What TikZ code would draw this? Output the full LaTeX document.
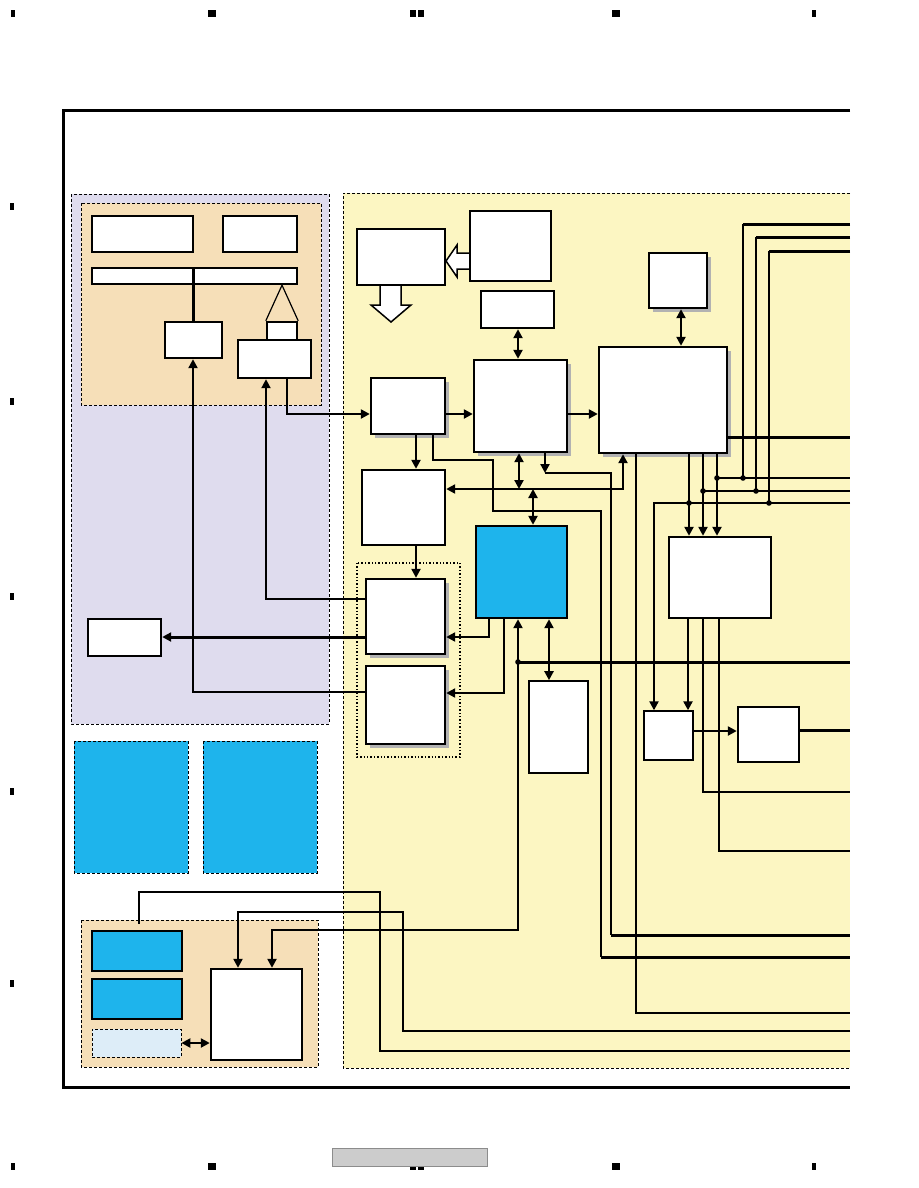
\documentclass[tikz,border=0pt]{standalone}
\usetikzlibrary{arrows.meta, shadows}
\definecolor{PanelLav}{HTML}{DFDCEE}
\definecolor{PanelTan}{HTML}{F6DFB8}
\definecolor{PanelYel}{HTML}{FCF6C2}
\definecolor{ChipCyan}{HTML}{1EB4EC}
\definecolor{PaleBlue}{HTML}{DDEDF8}
\definecolor{FootGray}{HTML}{CCCCCC}
\begin{document}
\begin{tikzpicture}[x=1pt, y=-1pt,
    box/.style={draw, fill=white, line width=2.4pt, inner sep=0pt},
    shbox/.style={box, drop shadow={shadow xshift=4pt, shadow yshift=-4pt, fill=black!30, opacity=1}},
    panel/.style={draw, line width=0.8pt, dash pattern=on 3pt off 2pt},
    arr/.style={-{Triangle[length=9pt,width=9pt]}, line width=2.6pt},
    dbl/.style={{Triangle[length=9pt,width=9pt]}-{Triangle[length=9pt,width=9pt]}, line width=2.6pt},
    bus/.style={line width=3pt},
    wire/.style={line width=1.4pt},
    regmark/.style={fill=black}
  ]
  \fill[white] (0,0) rectangle (918,1188);
  \useasboundingbox (0,0) rectangle (918,1188);
  % registration marks
  \foreach \x/\w in {11/4, 208/8, 612/8, 812/4} {
    \fill[regmark] (\x,10) rectangle ++(\w,7);
    \fill[regmark] (\x,1163) rectangle ++(\w,7);
  }
  \foreach \y in {10,1163} {
    \fill[regmark] (410,\y) rectangle ++(6,7);
    \fill[regmark] (418,\y) rectangle ++(6,7);
  }
  \foreach \y in {203,398,593,788,980}
    \fill[regmark] (10,\y) rectangle ++(4,7);
  \draw[fill=FootGray, draw=black!45, line width=0.8pt] (332,1148) rectangle (487,1166);
  % frame
  \draw[line width=3pt] (850,111) -- (63,111) -- (63,1087) -- (850,1087);
  % panels
  \draw[panel, fill=PanelLav] (71,194) rectangle (329,724);
  \draw[panel, fill=PanelTan] (81,203) rectangle (321,405);
  \draw[panel, fill=ChipCyan] (74,741) rectangle (188,873);
  \draw[panel, fill=ChipCyan] (203,741) rectangle (317,873);
  \draw[panel, fill=PanelTan] (81,920) rectangle (318,1067);
  \fill[PanelYel] (343,193) rectangle (850,1068);
  \draw[panel] (850,193) -- (343,193) -- (343,1068) -- (850,1068);
  \draw[dotted, line width=1.4pt] (357,563) rectangle (460,757);
  \coordinate (edge) at (850,0);

  % hollow arrows
  \draw[fill=white, line width=1.5pt] (470,253) -- (457,253) -- (457,245) -- (446,261) -- (457,277) -- (457,269) -- (470,269) -- cycle;
  \draw[fill=white, line width=1.5pt] (380,285) -- (380,305) -- (371,305) -- (391,322) -- (411,305) -- (401,305) -- (401,285) -- cycle;

  % left unit
  \node[box, minimum width=101, minimum height=36] (memA) at (142.5,234) {};
  \node[box, minimum width=74, minimum height=36] (memB) at (260,234) {};
  \node[box, minimum width=205, minimum height=16] (conn) at (194.5,276) {};
  \node[box, minimum width=57, minimum height=36] (drv) at (193.5,340) {};
  \node[box, minimum width=30, minimum height=18] (tab) at (282,331) {};
  \node[box, minimum width=73, minimum height=38] (ctl) at (274.5,359) {};
  \node[box, minimum width=73, minimum height=37] (lamp) at (124.5,637.5) {};
  \node[box, fill=ChipCyan, minimum width=90, minimum height=40] (romA) at (137,951) {};
  \node[box, fill=ChipCyan, minimum width=90, minimum height=40] (romB) at (137,999) {};
  \node[draw, fill=PaleBlue, line width=0.8pt, dash pattern=on 3pt off 2pt, minimum width=89, minimum height=28] (ext) at (136.5,1043) {};
  \node[box, minimum width=91, minimum height=91] (sub) at (256.5,1014.5) {};

  % main board
  \node[box, minimum width=88, minimum height=56] (disp) at (401,257) {};
  \node[box, minimum width=81, minimum height=70] (gen) at (510.5,246) {};
  \node[box, minimum width=73, minimum height=37] (sdram) at (517.5,309.5) {};
  \node[shbox, minimum width=93, minimum height=92] (dsp) at (520.5,406) {};
  \node[shbox, minimum width=74, minimum height=56] (rf) at (408,406) {};
  \node[box, minimum width=83, minimum height=75] (dem) at (403.5,507.5) {};
  \node[shbox, minimum width=79, minimum height=75] (outA) at (405.5,616.5) {};
  \node[shbox, minimum width=79, minimum height=78] (outB) at (405.5,705) {};
  \node[box, fill=ChipCyan, minimum width=91, minimum height=92] (cpu) at (521.5,572) {};
  \node[box, line width=1.6pt, minimum width=59, minimum height=92] (flash) at (558.5,727) {};
  \node[shbox, minimum width=128, minimum height=106] (mainic) at (663,400) {};
  \node[shbox, minimum width=58, minimum height=55] (eep) at (678,280.5) {};
  \node[box, minimum width=102, minimum height=81] (sel) at (720,577.5) {};
  \node[box, line width=1.4pt, minimum width=49, minimum height=49] (bufA) at (668.5,735.5) {};
  \node[box, minimum width=61, minimum height=55] (bufB) at (768.5,734.5) {};

  % left unit links
  \draw[line width=3.5pt] (drv.north) -- (drv.north |- conn.north);
  \draw[line width=1.2pt] (tab.north west) -- (conn.south -| tab.north) -- (tab.north east);
  \draw[arr] (ctl.south -| 287,0) |- (rf.west |- 0,414);
  \draw[arr, line width=2pt] (outA.west |- 0,599) -| (ctl.south -| 266,0);
  \draw[arr, line width=2.2pt] (outB.west |- 0,692) -| (drv.south -| 193,0);
  \draw[arr, line width=3pt] (outA.west |- 0,637) -- (lamp.east |- 0,637);
  \draw[dbl] (ext.east) -- (sub.west |- ext.east);

  % signal path
  \draw[arr] (rf.east |- 0,414) -- (dsp.west |- 0,414);
  \draw[arr] (dsp.east |- 0,414) -- (mainic.west |- 0,414);
  \draw[arr] (rf.south -| 416,0) -- (dem.north -| 416,0);
  \draw[arr] (dem.south -| 416,0) -- (outA.north -| 416,0);
  \draw[dbl] (sdram.south -| 518,0) -- (dsp.north -| 518,0);
  \draw[dbl] (eep.south -| 681,0) -- (mainic.north -| 681,0);
  \draw[dbl] (dsp.south -| 519,0) -- (519,489);
  \draw[dbl] (dem.east |- 0,489) -| (mainic.south -| 623,0);
  \draw[dbl] (533,489) -- (cpu.north -| 533,0);
  \draw[arr] (cpu.south -| 489,0) |- (outA.east |- 0,637);
  \draw[arr] (cpu.south -| 504,0) |- (outB.east |- 0,693);
  \draw[dbl] (cpu.south -| 549,0) -- (flash.north -| 549,0);
  \draw[dbl] (sub.north -| 272,0) |- (518,930) -- (cpu.south -| 518,0);
  \fill (518,662) circle (2.8);
  \draw[bus] (518,662) -- (edge |- 0,662);

  % long wires
  \draw[wire] (rf.south -| 433,0) |- (493,460) |- (601,511) -- (601,957);
  \draw[bus] (601,957) -- (edge |- 0,957);
  \draw[arr] (dsp.south -| 545,0) -- (545,473);
  \draw[wire] (545,473) -| (611,935);
  \draw[bus] (611,935) -- (edge |- 0,935);
  \draw[wire] (mainic.south -| 636,0) |- (edge |- 0,1013);
  \draw[arr, line width=2.2pt] (edge |- 0,1031) -| (403,912) -| (sub.north -| 238,0);
  \draw[line width=2.2pt] (romA.north -| 139,0) ++(0,-6) |- (380,892) |- (edge |- 0,1051);

  % main controller outputs
  \draw[bus] (mainic.east |- 0,437) -- (edge |- 0,437);
  \foreach \x/\y/\z in {743/224/478, 756/237/491, 769/251/503} {
    \draw[bus] (edge |- 0,\y) -- (\x,\y);
    \draw[wire] (\x,\y) -- (\x,\z);
    \fill (\x,\z) circle (2.8);
  }
  \foreach \x in {689,703,717}
    \draw[arr] (mainic.south -| \x,0) -- (sel.north -| \x,0);
  \draw[wire] (717,478) -- (edge |- 0,478);
  \draw[wire] (703,491) -- (edge |- 0,491);
  \fill (717,478) circle (2.8);
  \fill (703,491) circle (2.8);
  \fill (689,503) circle (2.8);
  \draw[arr, line width=2.2pt] (edge |- 0,503) -| (bufA.north -| 654,0);
  \draw[arr] (sel.south -| 688,0) -- (bufA.north -| 688,0);
  \draw[line width=2.2pt] (sel.south -| 703,0) |- (edge |- 0,792);
  \draw[line width=2.2pt] (sel.south -| 719,0) |- (edge |- 0,851);
  \draw[arr] (bufA.east |- 0,731) -- (bufB.west |- 0,731);
  \draw[bus] (bufB.east |- 0,730) -- (edge |- 0,730);
\end{tikzpicture}
\end{document}
